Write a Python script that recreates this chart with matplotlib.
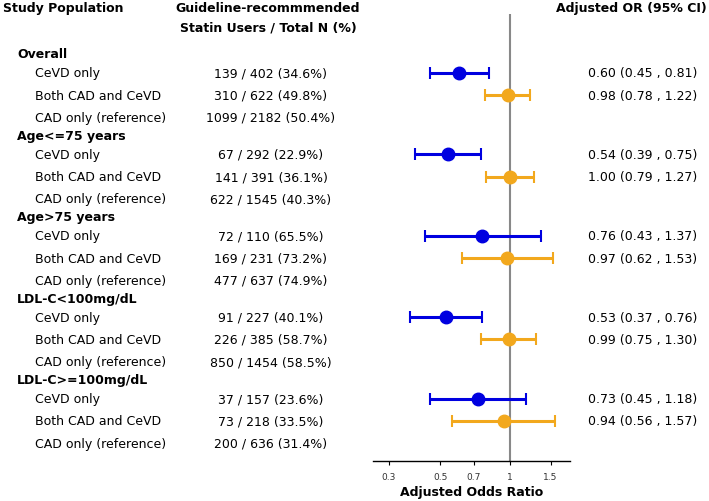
import matplotlib
matplotlib.use("Agg")
import matplotlib.pyplot as plt
import matplotlib.transforms as mtransforms

# =====================
# DATA
# =====================
groups = ["Overall", "Age<=75 years", "Age>75 years", "LDL-C<100mg/dL", "LDL-C>=100mg/dL"]
subgroups = ["CeVD only", "Both CAD and CeVD", "CAD only (reference)"]

counts = [
    ["139 / 402 (34.6%)", "310 / 622 (49.8%)", "1099 / 2182 (50.4%)"],
    ["67 / 292 (22.9%)", "141 / 391 (36.1%)", "622 / 1545 (40.3%)"],
    ["72 / 110 (65.5%)", "169 / 231 (73.2%)", "477 / 637 (74.9%)"],
    ["91 / 227 (40.1%)", "226 / 385 (58.7%)", "850 / 1454 (58.5%)"],
    ["37 / 157 (23.6%)", "73 / 218 (33.5%)", "200 / 636 (31.4%)"],
]

# odds ratios: [CeVD only, Both]
or_est = [[0.60, 0.98], [0.54, 1.00], [0.76, 0.97], [0.53, 0.99], [0.73, 0.94]]
or_lo = [[0.45, 0.78], [0.39, 0.79], [0.43, 0.62], [0.37, 0.75], [0.45, 0.56]]
or_hi = [[0.81, 1.22], [0.75, 1.27], [1.37, 1.53], [0.76, 1.30], [1.18, 1.57]]

ticks = [0.3, 0.5, 0.7, 1, 1.5]
tick_labels = ["0.3", "0.5", "0.7", "1", "1.5"]

colors = ["#0000e0", "#f2a81d"]

W, H = 709, 502
fig = plt.figure(figsize=(W / 100, H / 100), dpi=100)
ax = fig.add_axes([373 / W, 1 - 462 / H, (570 - 373) / W, (462 - 15) / H])

ax.set_xscale("log")
ax.set_xlim(0.256, 1.82)
ax.set_ylim(19.25, -1.89)

tr = mtransforms.blended_transform_factory(fig.transFigure, ax.transData)
fs = 9

def fx(px):
    return px / W

# headers
ax.text(fx(3), -2.22, "Study Population", transform=tr, ha="left", va="center",
        fontsize=fs, fontweight="bold", clip_on=False)
ax.text(fx(268), -2.22, "Guideline-recommmended", transform=tr, ha="center", va="center",
        fontsize=fs, fontweight="bold", clip_on=False)
ax.text(fx(268), -1.28, "Statin Users / Total N (%)", transform=tr, ha="center", va="center",
        fontsize=fs, fontweight="bold", clip_on=False)
ax.text(fx(707), -2.22, "Adjusted OR (95% CI)", transform=tr, ha="right", va="center",
        fontsize=fs, fontweight="bold", clip_on=False)

row = 0
for g in range(len(groups)):
    ax.text(fx(17), row, groups[g], transform=tr, ha="left", va="center",
            fontsize=fs, fontweight="bold", clip_on=False)
    row += 0.9
    for s in range(len(subgroups)):
        y = row
        ax.text(fx(35), y, subgroups[s], transform=tr, ha="left", va="center",
                fontsize=fs, clip_on=False)
        ax.text(fx(271), y, counts[g][s], transform=tr, ha="center", va="center",
                fontsize=fs, clip_on=False)
        if s < 2:
            est, lo, hi = or_est[g][s], or_lo[g][s], or_hi[g][s]
            ax.errorbar(est, y, xerr=[[est - lo], [hi - est]], fmt="o", color=colors[s],
                        ms=9, elinewidth=2.2, capsize=4, capthick=1.5, zorder=3)
            ax.text(fx(588), y, f"{est:.2f} ({lo:.2f} , {hi:.2f})", transform=tr,
                    ha="left", va="center", fontsize=fs, clip_on=False)
        if s < 2:
            row += 1.05
    row += 0.85

ax.axvline(1, color="#888888", lw=1.5, zorder=1)

for side in ["top", "left", "right"]:
    ax.spines[side].set_visible(False)
ax.spines["bottom"].set_linewidth(1.0)
ax.set_yticks([])
ax.set_xticks(ticks)
ax.set_xticklabels(tick_labels, fontsize=6.5, color="#333333")
ax.xaxis.set_minor_locator(matplotlib.ticker.NullLocator())
ax.tick_params(axis="x", direction="out", length=3, pad=5)
ax.set_xlabel("Adjusted Odds Ratio", fontsize=fs, fontweight="bold", labelpad=3)

fig.savefig("out.png", dpi=100)
